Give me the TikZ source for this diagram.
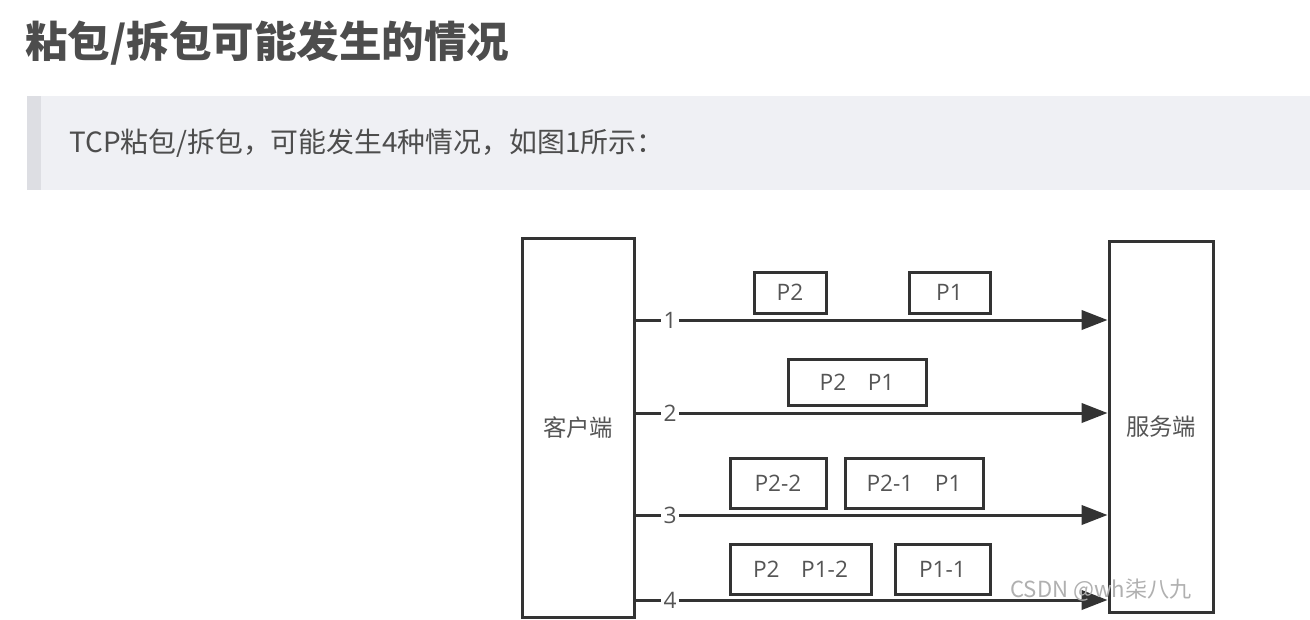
\documentclass[tikz,border=0pt]{standalone}
\usepackage{fontspec}
\setmainfont{Open Sans}
\newfontfamily\cjk{Noto Sans CJK SC}
\usetikzlibrary{arrows.meta}
\definecolor{titlegray}{HTML}{4D4D4D}
\definecolor{quotebg}{HTML}{EFF0F4}
\definecolor{quotebar}{HTML}{DDDEE3}
\definecolor{linegray}{HTML}{333333}
\definecolor{textgray}{HTML}{555555}
\definecolor{wmgray}{HTML}{B0B0B0}
\tikzset{
  endbox/.style={draw=linegray, line width=2.25pt, minimum width=#1, inner sep=0pt,
    font=\cjk\fontsize{17.5pt}{20pt}\selectfont, text=textgray},
  pkt/.style={draw=linegray, line width=2.25pt, inner sep=0pt,
    font=\fontsize{17pt}{19pt}\selectfont, text=textgray},
  numlbl/.style={inner sep=2pt, font=\fontsize{17pt}{19pt}\selectfont, text=textgray},
  conn/.style={draw=linegray, line width=2.25pt},
  arr/.style={conn, -{Triangle[length=19.5pt,width=14.5pt]}}
}
\begin{document}
\begin{tikzpicture}[x=0.75pt,y=-0.75pt]
\useasboundingbox (0,0) rectangle (1310,619);
\fill[white] (0,0) rectangle (1310,619);
% title
\node[anchor=west, inner sep=0pt, text=titlegray, font=\cjk\bfseries\fontsize{31.9pt}{34pt}\selectfont] (title) at (25,43) {粘包/拆包可能发生的情况};
% quote block
\fill[quotebg] (27,96) rectangle (1310,190);
\fill[quotebar] (27,96) rectangle (41,190);
\node[anchor=west, inner sep=0pt, text=titlegray, font=\cjk\fontsize{20.9pt}{23pt}\selectfont] (quote) at (69,143) {TCP粘包/拆包，可能发生4种情况，如图1所示：};
% end boxes
\node[endbox=84pt, minimum height=284.25pt] (client) at (578,427.5) {客户端};
\node[endbox=78pt, minimum height=278.25pt] (server) at (1161,426.5) {服务端};
% number labels
\node[numlbl] (n1) at (670,320) {1};
\node[numlbl] (n2) at (670,413) {2};
\node[numlbl] (n3) at (670,515) {3};
\node[numlbl] (n4) at (670,600) {4};
\foreach \i in {1,2,3,4}{
  \draw[conn] (client.east |- n\i) -- (n\i.west);
  \draw[arr] (n\i.east) -- (server.west |- n\i);
}
% packets
\node[pkt, minimum width=54pt, minimum height=30.75pt] (r1a) at (790,292.5) {P2};
\node[pkt, minimum width=60.75pt, minimum height=30.75pt] (r1b) at (949.5,292.5) {P1};
\node[pkt, minimum width=103.5pt, minimum height=34.5pt] (r2a) at (857,382) {P2\hspace{0.95em}P1};
\node[pkt, minimum width=72pt, minimum height=37.5pt] (r3a) at (778,483) {P2-2};
\node[pkt, minimum width=103.5pt, minimum height=37.5pt] (r3b) at (914,483) {P2-1\hspace{0.95em}P1};
\node[pkt, minimum width=105.75pt, minimum height=37.5pt] (r4a) at (800.5,569) {P2\hspace{0.95em}P1-2};
\node[pkt, minimum width=71.25pt, minimum height=37.5pt] (r4b) at (942.5,569) {P1-1};
% watermark
\node[anchor=west, inner sep=0pt, text=wmgray, font=\cjk\fontsize{16.6pt}{18pt}\selectfont] (wm) at (1010,590) {CSDN @wh柒八九};
\end{tikzpicture}
\end{document}
